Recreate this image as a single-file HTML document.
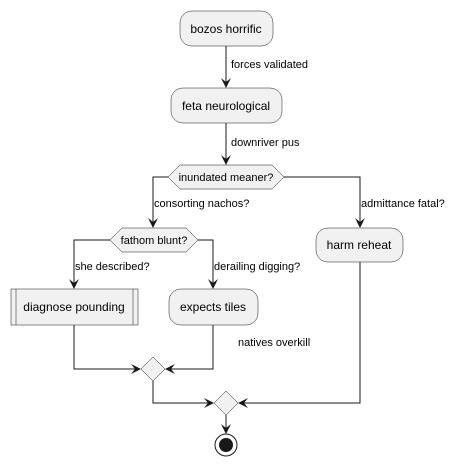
<!DOCTYPE html>
<html><head><style>body{margin:0;background:#fff}</style></head><body>
<svg width="453" height="467" xmlns="http://www.w3.org/2000/svg" font-family="Liberation Sans, sans-serif">
<defs><marker id="a" viewBox="0 0 10 10" refX="9" refY="5" markerWidth="10" markerHeight="10" orient="auto" markerUnits="userSpaceOnUse"><path d="M0,0 L10,5 L0,10 L4,5 Z" fill="#181818"/></marker></defs>
<g stroke="#181818" stroke-width="1" fill="none">
<line x1="226" y1="46" x2="226" y2="87" marker-end="url(#a)"/>
<line x1="226" y1="123" x2="226" y2="164" marker-end="url(#a)"/>
<polyline points="168,177 153,177 153,227" marker-end="url(#a)"/>
<polyline points="284,177 360,177 360,227" marker-end="url(#a)"/>
<polyline points="110,240 74,240 74,288" marker-end="url(#a)"/>
<polyline points="198,240 213,240 213,288" marker-end="url(#a)"/>
<polyline points="74,325 74,369 140,369" marker-end="url(#a)"/>
<polyline points="213,325 213,369 166,369" marker-end="url(#a)"/>
<polyline points="153,381 153,403 213,403" marker-end="url(#a)"/>
<polyline points="360,262 360,403 239,403" marker-end="url(#a)"/>
<line x1="226" y1="415" x2="226" y2="433" marker-end="url(#a)"/>
</g>
<g fill="#f1f1f1" stroke="#181818" stroke-width="0.5">
<rect x="180" y="11" width="93" height="35" rx="12"/>
<rect x="171" y="88" width="111" height="35" rx="12"/>
<polygon points="168,177 180,165 272,165 284,177 272,189 180,189"/>
<polygon points="110,240 122,228 186,228 198,240 186,252 122,252"/>
<rect x="316" y="228" width="87" height="34" rx="12"/>
<rect x="11" y="289" width="127" height="36"/>
<line x1="16" y1="289" x2="16" y2="325"/><line x1="133" y1="289" x2="133" y2="325"/>
<rect x="169" y="289" width="89" height="36" rx="12"/>
<polygon points="153,357 165,369 153,381 141,369"/>
<polygon points="226,391 238,403 226,415 214,403"/>
</g>
<circle cx="226" cy="445" r="11" fill="none" stroke="#181818" stroke-width="1"/>
<circle cx="226" cy="445" r="7" fill="#181818"/>
<g font-size="12" fill="#000" text-anchor="middle">
<text x="226" y="33">bozos horrific</text>
<text x="226" y="110">feta neurological</text>
<text x="226" y="181" font-size="11">inundated meaner?</text>
<text x="154" y="244" font-size="11">fathom blunt?</text>
<text x="359" y="249">harm reheat</text>
<text x="74" y="311">diagnose pounding</text>
<text x="213" y="311">expects tiles</text>
</g>
<g font-size="11" fill="#000">
<text x="231" y="68">forces validated</text>
<text x="231" y="146">downriver pus</text>
<text x="154" y="207">consorting nachos?</text>
<text x="361" y="207">admittance fatal?</text>
<text x="75" y="270">she described?</text>
<text x="214" y="270">derailing digging?</text>
<text x="238" y="346">natives overkill</text>
</g>
</svg>
</body></html>
